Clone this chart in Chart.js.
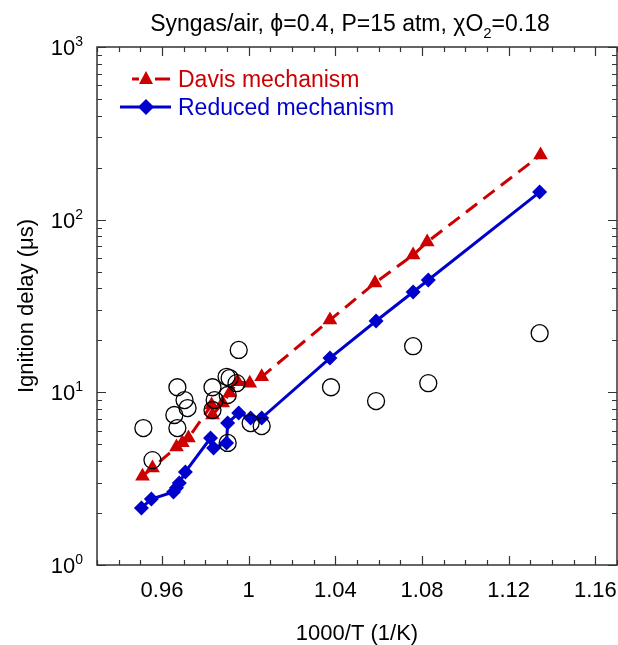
<!DOCTYPE html>
<html>
<head>
<meta charset="utf-8">
<script src="https://cdn.jsdelivr.net/npm/chart.js@4.4.1/dist/chart.umd.min.js"></script>
<style>
  html, body { margin: 0; padding: 0; background: #fff; }
  #wrap { width: 618px; height: 645px; position: relative; }
</style>
</head>
<body>
<div id="wrap"><canvas id="chart"></canvas></div>
<script>
// --- data (1000/T in 1/K, delay in microseconds) ---
const davisX = [0.951, 0.9556, 0.9667, 0.9694, 0.9722, 0.9829, 0.9833, 0.988, 0.9912, 0.9949, 1.0005, 1.006, 1.0375, 1.0583, 1.0759, 1.0824, 1.1347];
const davisY = [3.27, 3.65, 4.82, 5.1, 5.44, 8.45, 7.39, 8.67, 9.91, 11.5, 11.3, 12.3, 26.2, 43, 62.4, 74.2, 236.6];

const reducedX = [0.9505, 0.9551, 0.9653, 0.9667, 0.968, 0.9708, 0.9824, 0.9838, 0.9898, 0.9903, 0.9954, 1.0009, 1.006, 1.0375, 1.0588, 1.0759, 1.0829, 1.1343];
const reducedY = [2.14, 2.41, 2.65, 2.8, 2.98, 3.46, 5.44, 4.76, 5.09, 6.64, 7.59, 7.1, 7.1, 15.8, 25.9, 38.1, 44.7, 144.5];

const expX = [0.9514, 0.9556, 0.9657, 0.9671, 0.9671, 0.9704, 0.9718, 0.9833, 0.9843, 0.9833, 0.9898, 0.9912, 0.9944, 0.9903, 0.9954, 0.9903, 1.0009, 1.006, 1.038, 1.0588, 1.0759, 1.0829, 1.1343];
const expY = [6.21, 4.05, 7.39, 10.7, 6.21, 9.02, 8.11, 10.7, 9.02, 7.9, 12.3, 12.1, 11.3, 9.65, 17.6, 5.09, 6.64, 6.38, 10.7, 8.9, 18.5, 11.3, 22.0];

const xTicks = [0.96, 1, 1.04, 1.08, 1.12, 1.16];
const xTickLabels = ["0.96", "1", "1.04", "1.08", "1.12", "1.16"];
const yDecades = [1, 10, 100, 1000];
const yExponents = ["0", "1", "2", "3"];

const RED = "#cc0000";
const BLUE = "#0000cc";
const FONT = "'Liberation Sans', Arial, sans-serif";

const toPoints = (xs, ys) => xs.map((x, i) => ({ x: x, y: ys[i] }));

// frame, ticks, labels, legend and title drawn after the datasets
const decorPlugin = {
  id: "decor",
  afterDraw(chart) {
    const ctx = chart.ctx;
    const area = chart.chartArea;
    const xs = chart.scales.x;
    const ys = chart.scales.y;
    ctx.save();

    // frame
    ctx.strokeStyle = "#333";
    ctx.lineWidth = 1.5;
    ctx.strokeRect(area.left, area.top, area.right - area.left, area.bottom - area.top);

    // x ticks (inward, bottom and top)
    ctx.lineWidth = 1.2;
    ctx.beginPath();
    for (let i = 93; i <= 117; i++) {
      const v = i / 100;
      const px = Math.round(xs.getPixelForValue(v)) + 0.5;
      const major = i % 4 === 0;
      const len = major ? 9 : 5;
      ctx.moveTo(px, area.bottom);
      ctx.lineTo(px, area.bottom - len);
      ctx.moveTo(px, area.top);
      ctx.lineTo(px, area.top + len);
    }
    // y ticks (inward, left and right)
    for (let d = 0; d < yDecades.length; d++) {
      const base = yDecades[d];
      const steps = d === yDecades.length - 1 ? 1 : 9;
      for (let m = 1; m <= steps; m++) {
        const py = Math.round(ys.getPixelForValue(base * m)) + 0.5;
        const len = m === 1 ? 9 : 5;
        ctx.moveTo(area.left, py);
        ctx.lineTo(area.left + len, py);
        ctx.moveTo(area.right, py);
        ctx.lineTo(area.right - len, py);
      }
    }
    ctx.stroke();

    // x tick labels
    ctx.fillStyle = "#000";
    ctx.font = "22px " + FONT;
    ctx.textAlign = "center";
    ctx.textBaseline = "alphabetic";
    xTicks.forEach((v, i) => {
      ctx.fillText(xTickLabels[i], xs.getPixelForValue(v), area.bottom + 32);
    });

    // y tick labels: 10 with superscript exponent
    yDecades.forEach((v, i) => {
      const py = ys.getPixelForValue(v);
      ctx.font = "14px " + FONT;
      const ew = ctx.measureText(yExponents[i]).width;
      ctx.textAlign = "left";
      const right = area.left - 14;
      ctx.fillText(yExponents[i], right - ew, py - 1);
      ctx.font = "22px " + FONT;
      ctx.textAlign = "right";
      ctx.fillText("10", right - ew, py + 8);
    });

    // axis titles
    ctx.font = "22px " + FONT;
    ctx.textAlign = "center";
    ctx.fillText("1000/T (1/K)", (area.left + area.right) / 2, 640);
    ctx.save();
    ctx.translate(33, (area.top + area.bottom) / 2);
    ctx.rotate(-Math.PI / 2);
    ctx.fillText("Ignition delay (\u03bcs)", 0, 0);
    ctx.restore();

    // title with subscript
    const parts = [
      { t: "Syngas/air, \u03d5=0.4, P=15 atm, \u03c7O", size: 23, dy: 0 },
      { t: "2", size: 15, dy: 7 },
      { t: "=0.18", size: 23, dy: 0 },
    ];
    let total = 0;
    parts.forEach((p) => {
      ctx.font = p.size + "px " + FONT;
      p.w = ctx.measureText(p.t).width;
      total += p.w;
    });
    let tx = 350 - total / 2;
    ctx.textAlign = "left";
    parts.forEach((p) => {
      ctx.font = p.size + "px " + FONT;
      ctx.fillText(p.t, tx, 31 + p.dy);
      tx += p.w;
    });

    // legend
    const legend = [
      { label: "Davis mechanism", color: RED, dash: [11, 6], y: 79, x0: 132, style: "triangle" },
      { label: "Reduced mechanism", color: BLUE, dash: [], y: 107, x0: 120, style: "diamond" },
    ];
    legend.forEach((l) => {
      ctx.strokeStyle = l.color;
      ctx.fillStyle = l.color;
      ctx.lineWidth = 3;
      ctx.setLineDash([]);
      ctx.beginPath();
      if (l.dash.length) {
        ctx.moveTo(132, l.y); ctx.lineTo(139, l.y);
        ctx.moveTo(155, l.y); ctx.lineTo(170, l.y);
      } else {
        ctx.moveTo(l.x0, l.y); ctx.lineTo(171, l.y);
      }
      ctx.stroke();
      const cx = 146;
      ctx.beginPath();
      if (l.style === "triangle") {
        ctx.moveTo(cx, l.y - 8);
        ctx.lineTo(cx + 7, l.y + 5);
        ctx.lineTo(cx - 7, l.y + 5);
      } else {
        ctx.moveTo(cx, l.y - 8);
        ctx.lineTo(cx + 8, l.y);
        ctx.lineTo(cx, l.y + 8);
        ctx.lineTo(cx - 8, l.y);
      }
      ctx.closePath();
      ctx.fill();
      ctx.font = "23px " + FONT;
      ctx.textAlign = "left";
      ctx.fillText(l.label, 178, l.y + 8);
    });

    ctx.restore();
  },
};

new Chart(document.getElementById("chart"), {
  type: "scatter",
  data: {
    datasets: [
      {
        label: "Experiment",
        data: toPoints(expX, expY),
        pointStyle: "circle",
        pointRadius: 8.5,
        pointBorderWidth: 1.3,
        borderColor: "#000",
        backgroundColor: "rgba(0,0,0,0)",
        showLine: false,
        order: 0,
      },
      {
        label: "Davis mechanism",
        data: toPoints(davisX, davisY),
        showLine: true,
        borderColor: RED,
        backgroundColor: RED,
        borderWidth: 3,
        borderDash: [14, 8],
        pointStyle: "triangle",
        pointRadius: 8.5,
        pointBorderWidth: 0,
        order: 1,
      },
      {
        label: "Reduced mechanism",
        data: toPoints(reducedX, reducedY),
        showLine: true,
        borderColor: BLUE,
        backgroundColor: BLUE,
        borderWidth: 3,
        pointStyle: "rectRot",
        pointRadius: 7.5,
        pointBorderWidth: 0,
        order: 2,
      },
    ],
  },
  options: {
    responsive: true,
    maintainAspectRatio: false,
    animation: false,
    layout: { autoPadding: false, padding: { left: 97, right: 1, top: 47, bottom: 80 } },
    plugins: { legend: { display: false }, tooltip: { enabled: false } },
    scales: {
      x: { type: "linear", min: 0.93, max: 1.17, display: false },
      y: { type: "logarithmic", min: 1, max: 1000, display: false },
    },
  },
  plugins: [decorPlugin],
});
</script>
</body>
</html>
